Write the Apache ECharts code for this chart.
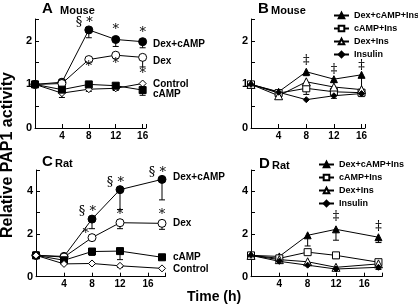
<!DOCTYPE html>
<html>
<head>
<meta charset="utf-8">
<script src="https://cdn.jsdelivr.net/npm/echarts@6/dist/echarts.min.js"></script>
<style>
  html, body { margin: 0; padding: 0; background: #fff; }
  #show_picture { width: 418px; height: 308px; }
</style>
</head>
<body>
<div id="show_picture"></div>
<script>
const hoursMouse = [0, 4, 8, 12, 16];
const hoursRat = [0, 4, 8, 12, 18];

// A: mouse
const mDexCamp = [1, 1.05, 2.25, 2.03, 1.98];
const mDexCampErr = [null, null, 2.07, 1.87, 1.84];
const mDex = [1, 1.02, 1.57, 1.67, 1.62];
const mDexErr = [null, null, null, null, 1.4];
const mControl = [1, 0.8, 0.89, 0.91, 1.02];
const mControlErr = [null, 0.7, 0.84, 0.86, null];
const mCamp = [1, 0.88, 1.0, 0.97, 0.87];
const mCampErr = [null, null, null, null, 0.75];

// B: mouse + insulin
const mDexCampIns = [1, 0.83, 1.29, 1.12, 1.22];
const mDexCampInsErr = [null, null, 1.2, 1.05, 0.85];
const mCampIns = [1, 0.8, 0.91, 0.83, 0.81];
const mCampInsErr = [null, null, 0.77, null, 0.72];
const mDexIns = [1, 0.74, 1.06, 0.94, 0.88];
const mDexInsErr = [null, null, null, null, null];
const mIns = [1, 0.82, 0.65, 0.74, 0.79];
const mInsErr = [null, null, null, 0.68, null];

// C: rat
const rDexCamp = [1, 0.95, 2.7, 4.08, 4.56];
const rDexCampErr = [null, null, 2.25, 3.15, 3.6];
const rDex = [1, 0.92, 1.83, 2.53, 2.5];
const rDexErr = [null, null, null, 2.25, 2.22];
const rCamp = [1, 0.77, 1.18, 1.2, 0.91];
const rCampErr = [null, null, 1.0, 0.8, null];
const rControl = [1, 0.6, 0.62, 0.51, 0.39];
const rControlErr = [null, null, null, 0.44, null];

// D: rat + insulin
const rDexCampIns = [1, 0.95, 1.94, 2.22, 1.85];
const rDexCampInsErr = [null, null, 1.44, 1.71, 1.6];
const rCampIns = [1, 0.86, 1.15, 1.0, 0.68];
const rCampInsErr = [null, null, null, 0.85, null];
const rDexIns = [1, 0.8, 0.7, 0.44, 0.6];
const rDexInsErr = [null, null, 0.58, null, null];
const rIns = [1, 0.72, 0.54, 0.36, 0.44];
const rInsErr = [null, null, null, null, 0.34];

// significance marks [hour, value, text]
const marksA = [[8, 2.41, '§ *'], [12, 2.25, '*'], [16, 2.19, '*'], [8, 1.4, '*'], [12, 1.47, '*'], [16, 1.24, '*']];
const marksB = [[8, 1.55, '‡'], [12, 1.33, '‡'], [16, 1.43, '‡']];
const marksC = [[8, 3.04, '§ *'], [12, 4.39, '§ *'], [18, 4.86, '§ *'], [12, 2.93, '*'], [18, 2.93, '*'], [7.1, 2.02, '*']];
const marksD = [[12, 2.8, '‡'], [18, 2.36, '‡']];

const insNames = ['Dex+cAMP+Ins', 'cAMP+Ins', 'Dex+Ins', 'Insulin'];

const font = 'Liberation Sans, Arial, sans-serif';
let myChart = echarts.init(document.getElementById('show_picture'));

function pts(xs, ys) {
    return xs.map((x, i) => [x, ys[i]]);
}

function lineSeries(name, idx, xs, ys, symbol, filled, size) {
    return {
        type: 'line', name: name, xAxisIndex: idx, yAxisIndex: idx,
        data: pts(xs, ys), symbol: symbol, symbolSize: size, z: 3,
        lineStyle: { color: '#000', width: 1 },
        itemStyle: { color: filled ? '#000' : '#fff', borderColor: '#000', borderWidth: 1 },
        emphasis: { disabled: true }
    };
}

function errSeries(idx, xs, ys, lows) {
    let d = [];
    xs.forEach((x, i) => { if (lows[i] != null) d.push([x, ys[i], lows[i]]); });
    return {
        type: 'custom', xAxisIndex: idx, yAxisIndex: idx, z: 2, silent: true,
        data: d, encode: { x: 0, y: 1 },
        renderItem: (params, api) => {
            const p = api.coord([api.value(0), api.value(1)]);
            const q = api.coord([api.value(0), api.value(2)]);
            return {
                type: 'group', children: [
                    { type: 'line', shape: { x1: p[0], y1: p[1], x2: q[0], y2: q[1] }, style: { stroke: '#000', lineWidth: 1 } },
                    { type: 'line', shape: { x1: q[0] - 3, y1: q[1], x2: q[0] + 3, y2: q[1] }, style: { stroke: '#000', lineWidth: 1 } }
                ]
            };
        }
    };
}

function markSeries(idx, marks) {
    return {
        type: 'custom', xAxisIndex: idx, yAxisIndex: idx, z: 4, silent: true,
        data: marks, encode: { x: 0, y: 1 },
        renderItem: (params, api) => {
            const p = api.coord([api.value(0), api.value(1)]);
            const t = marks[params.dataIndex][2];
            const sec = t.charAt(0) === '§';
            return {
                type: 'text', x: sec ? p[0] + 4 : p[0], y: p[1],
                style: {
                    text: t, fill: '#000', fontSize: 13,
                    fontFamily: 'DejaVu Serif, Liberation Serif, serif',
                    textAlign: sec ? 'right' : 'center', textVerticalAlign: 'middle'
                }
            };
        }
    };
}

const grids = [
    { left: 35, top: 19, width: 111, height: 109 },
    { left: 251, top: 19, width: 114, height: 109 },
    { left: 36, top: 170, width: 129.5, height: 106.7 },
    { left: 251, top: 170, width: 131, height: 106.7 }
];

function xAxis(idx, max) {
    return {
        type: 'value', gridIndex: idx, min: 0, max: max, interval: 4,
        axisLine: { lineStyle: { color: '#000', width: 1 } },
        axisTick: { inside: true, length: 4, lineStyle: { color: '#000' } },
        splitLine: { show: false },
        axisLabel: {
            color: '#000', fontSize: 10, fontWeight: 'bold', fontFamily: font, margin: 3,
            formatter: v => (v > 0 && v % 4 === 0) ? v : ''
        }
    };
}

function yAxis(idx, max, step, labelStep) {
    return {
        type: 'value', gridIndex: idx, min: 0, max: max, interval: step,
        axisLine: { show: true, lineStyle: { color: '#000', width: 1 } },
        axisTick: { show: true, inside: true, length: 4, lineStyle: { color: '#000' } },
        splitLine: { show: false },
        axisLabel: {
            color: '#000', fontSize: 11, fontWeight: 'bold', fontFamily: font, margin: 3,
            formatter: v => (Math.abs(v / labelStep - Math.round(v / labelStep)) < 1e-6) ? v : ''
        }
    };
}

function txt(text, left, top, size, extra) {
    return Object.assign({
        type: 'text', left: left, top: top,
        style: { text: text, fill: '#000', font: 'bold ' + size + 'px ' + font }
    }, extra || {});
}

const legendBase = {
    orient: 'vertical', padding: 0, itemWidth: 15, itemHeight: 7, itemGap: 4, selectedMode: false,
    textStyle: { color: '#000', fontSize: 9, fontWeight: 'bold', fontFamily: font }
};

let option = {
    animation: false,
    grid: grids,
    xAxis: [xAxis(0, 16.5), xAxis(1, 16.5), xAxis(2, 18.5), xAxis(3, 18.5)],
    yAxis: [yAxis(0, 2.5, 0.5, 1), yAxis(1, 2.5, 0.5, 1), yAxis(2, 5, 1, 2), yAxis(3, 5, 1, 2)],
    legend: [
        Object.assign({ data: insNames, left: 333, top: 11 }, legendBase),
        Object.assign({ data: insNames, left: 318, top: 160 }, legendBase)
    ],
    graphic: [
        txt('A', 42, 1, 15), txt('Mouse', 60, 5, 11),
        txt('B', 258, 1, 15), txt('Mouse', 271, 5, 11),
        txt('C', 42, 154, 15), txt('Rat', 55, 158, 11),
        txt('D', 259, 156, 15), txt('Rat', 272, 160, 11),
        txt('Dex+cAMP', 153, 39, 10), txt('Dex', 153, 56, 10),
        txt('Control', 153, 79, 10), txt('cAMP', 153, 89, 10),
        txt('Dex+cAMP', 173, 172, 10), txt('Dex', 173, 218, 10),
        txt('cAMP', 173, 252, 10), txt('Control', 173, 264, 10),
        txt('Time (h)', 187, 290, 14),
        {
            type: 'text', x: 8, y: 155, rotation: Math.PI / 2,
            style: { text: 'Relative PAP1 activity', fill: '#000', font: 'bold 16px ' + font, textAlign: 'center', textVerticalAlign: 'middle' }
        }
    ],
    series: [
        lineSeries('Dex+cAMP', 0, hoursMouse, mDexCamp, 'circle', true, 8),
        lineSeries('Dex', 0, hoursMouse, mDex, 'circle', false, 8),
        lineSeries('Control', 0, hoursMouse, mControl, 'diamond', false, 7),
        lineSeries('cAMP', 0, hoursMouse, mCamp, 'rect', true, 7),
        errSeries(0, hoursMouse, mDexCamp, mDexCampErr),
        errSeries(0, hoursMouse, mDex, mDexErr),
        errSeries(0, hoursMouse, mControl, mControlErr),
        errSeries(0, hoursMouse, mCamp, mCampErr),
        markSeries(0, marksA),

        lineSeries(insNames[0], 1, hoursMouse, mDexCampIns, 'triangle', true, 7),
        lineSeries(insNames[1], 1, hoursMouse, mCampIns, 'rect', false, 7),
        lineSeries(insNames[2], 1, hoursMouse, mDexIns, 'triangle', false, 8),
        lineSeries(insNames[3], 1, hoursMouse, mIns, 'diamond', true, 6),
        errSeries(1, hoursMouse, mDexCampIns, mDexCampInsErr),
        errSeries(1, hoursMouse, mCampIns, mCampInsErr),
        errSeries(1, hoursMouse, mDexIns, mDexInsErr),
        errSeries(1, hoursMouse, mIns, mInsErr),
        markSeries(1, marksB),

        lineSeries('Dex+cAMP', 2, hoursRat, rDexCamp, 'circle', true, 8),
        lineSeries('Dex', 2, hoursRat, rDex, 'circle', false, 8),
        lineSeries('cAMP', 2, hoursRat, rCamp, 'rect', true, 7),
        lineSeries('Control', 2, hoursRat, rControl, 'diamond', false, 7),
        errSeries(2, hoursRat, rDexCamp, rDexCampErr),
        errSeries(2, hoursRat, rDex, rDexErr),
        errSeries(2, hoursRat, rCamp, rCampErr),
        errSeries(2, hoursRat, rControl, rControlErr),
        markSeries(2, marksC),

        lineSeries(insNames[0], 3, hoursRat, rDexCampIns, 'triangle', true, 7),
        lineSeries(insNames[1], 3, hoursRat, rCampIns, 'rect', false, 7),
        lineSeries(insNames[2], 3, hoursRat, rDexIns, 'triangle', false, 8),
        lineSeries(insNames[3], 3, hoursRat, rIns, 'diamond', true, 6),
        errSeries(3, hoursRat, rDexCampIns, rDexCampInsErr),
        errSeries(3, hoursRat, rCampIns, rCampInsErr),
        errSeries(3, hoursRat, rDexIns, rDexInsErr),
        errSeries(3, hoursRat, rIns, rInsErr),
        markSeries(3, marksD)
    ]
};

option && myChart.setOption(option);
</script>
</body>
</html>
